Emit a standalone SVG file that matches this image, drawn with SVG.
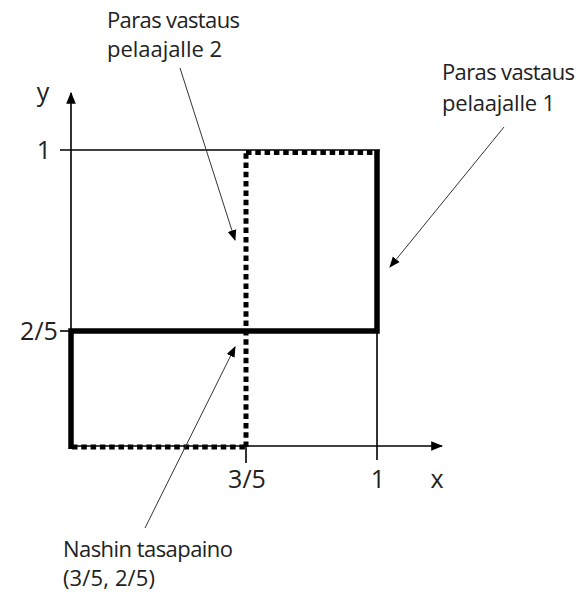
<svg xmlns="http://www.w3.org/2000/svg" width="579" height="592" viewBox="0 0 579 592">
<style>
text{font-family:"Open Sans","Liberation Sans",sans-serif;font-size:22px;fill:#222}
.ax{font-size:25px}
.thin{stroke:#000;stroke-width:1.6;fill:none}
.thick{stroke:#000;stroke-width:5.5;fill:none}
.dot{stroke:#000;stroke-width:5;fill:none;stroke-dasharray:5.5 3.8}
.ptr{stroke:#333;stroke-width:1;fill:none}
</style>
<defs>
<marker id="ah" viewBox="0 0 10 10" refX="9" refY="5" markerWidth="11" markerHeight="11" markerUnits="userSpaceOnUse" orient="auto">
<path d="M0,1 L10,5 L0,9 z" fill="#000"/>
</marker>
<marker id="ax" viewBox="0 0 10 10" refX="9" refY="5" markerWidth="12" markerHeight="12" markerUnits="userSpaceOnUse" orient="auto">
<path d="M0,1 L10,5 L0,9 z" fill="#000"/>
</marker>
</defs>
<g id="axes">
<line class="thin" x1="71" y1="446" x2="71" y2="93" marker-end="url(#ax)"/>
<line class="thin" x1="71" y1="446" x2="442" y2="446" marker-end="url(#ax)"/>
<line class="thin" x1="60" y1="150" x2="380" y2="150"/>
<line class="thin" x1="60" y1="331" x2="71" y2="331"/>
<line class="thin" x1="377" y1="150" x2="377" y2="460"/>
<line class="thin" x1="246" y1="446" x2="246" y2="463"/>
<text class="ax" x="43" y="101" text-anchor="middle">y</text>
<text class="ax" x="44" y="159" text-anchor="middle">1</text>
<text class="ax" x="39" y="340" text-anchor="middle">2/5</text>
<text class="ax" x="247" y="488" text-anchor="middle">3/5</text>
<text class="ax" x="378" y="488" text-anchor="middle">1</text>
<text class="ax" x="437" y="488" text-anchor="middle">x</text>
</g>
<g id="br1">
<polyline class="thick" points="71,449 71,331 377,331 377,150"/>
</g>
<g id="br2">
<path class="dot" d="M72,447 H246"/>
<path class="dot" d="M246,447 V153"/>
<path class="dot" d="M246,152.5 H375"/>
</g>
<g id="connectors">
<line class="ptr" x1="180" y1="68" x2="235" y2="240" marker-end="url(#ah)"/>
<line class="ptr" x1="504" y1="127" x2="390" y2="267" marker-end="url(#ah)"/>
<line class="ptr" x1="145" y1="528" x2="235" y2="347" marker-end="url(#ah)"/>
</g>
<g id="label-p2">
<text x="107" y="28" textLength="133">Paras vastaus</text>
<text x="107" y="57" textLength="115">pelaajalle 2</text>
</g>
<g id="label-p1">
<text x="442" y="80" textLength="133">Paras vastaus</text>
<text x="442" y="111" textLength="113">pelaajalle 1</text>
</g>
<g id="label-nash">
<text x="63" y="557" textLength="170">Nashin tasapaino</text>
<text x="63" y="586" textLength="92">(3/5, 2/5)</text>
</g>
</svg>
